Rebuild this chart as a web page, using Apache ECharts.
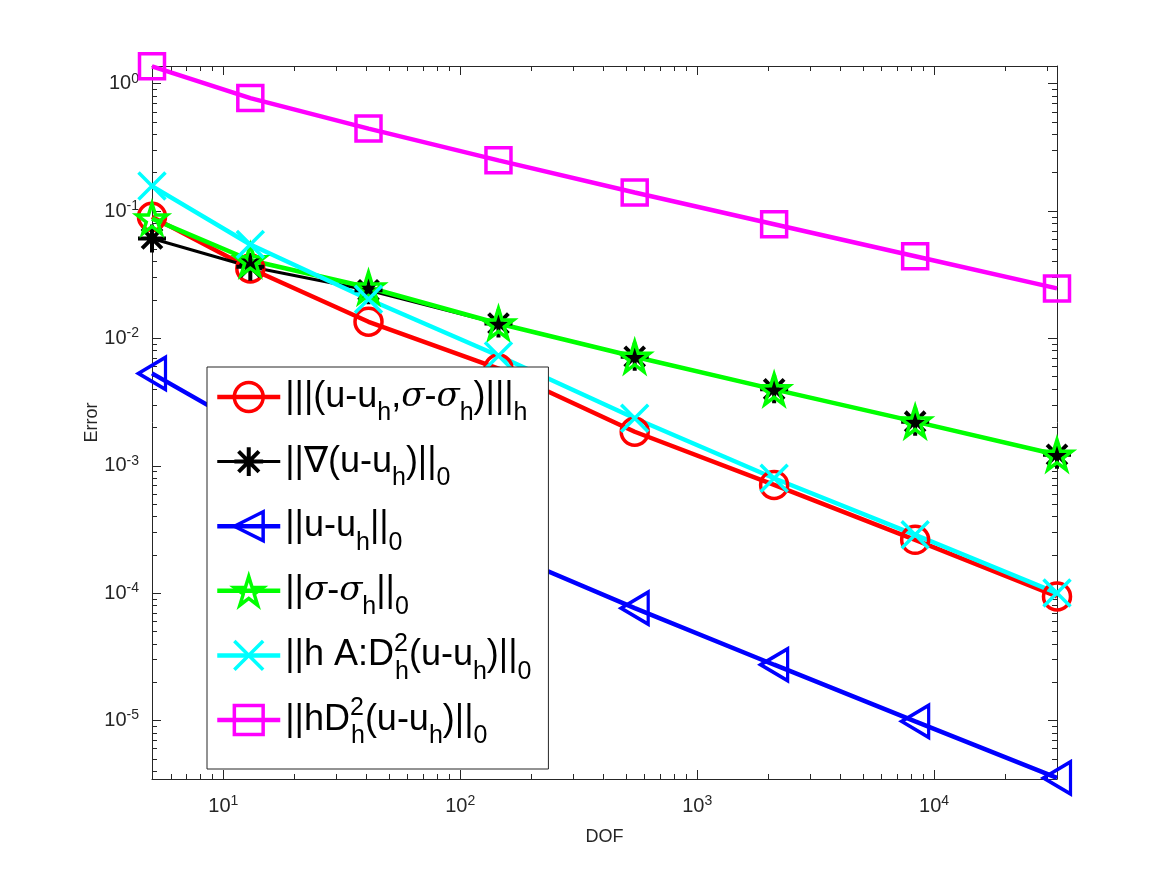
<!DOCTYPE html>
<html>
<head>
<meta charset="utf-8">
<title>Error vs DOF</title>
<script src="https://cdn.jsdelivr.net/npm/echarts@6/dist/echarts.min.js"></script>
<style>
  html, body { margin: 0; padding: 0; background: #fff; }
  #main { width: 1167px; height: 875px; }
</style>
</head>
<body>
<div id="main"></div>
<script>
// degrees of freedom on each refinement level
var dof = [5, 13, 41, 145, 545, 2113, 8321, 33025];

// errors
var energyErr = [0.090, 0.0354, 0.0135, 0.0058, 0.00185, 0.000707, 0.000262, 0.0000940];
var gradErr   = [0.0609, 0.0365, 0.0239, 0.0131, 0.00717, 0.00398, 0.00222, 0.00122];
var l2Err     = [0.00531, 0.00193, 0.00065, 0.000217, 0.0000762, 0.0000274, 0.00000984, 0.00000354];
var sigmaErr  = [0.0873, 0.0411, 0.0251, 0.0131, 0.00717, 0.00398, 0.00222, 0.00122];
var hAErr     = [0.157, 0.0546, 0.0203, 0.00731, 0.00236, 0.000798, 0.000287, 0.0001];
var hD2Err    = [1.37, 0.771, 0.444, 0.250, 0.140, 0.0788, 0.0442, 0.0247];

var names = ['energy', 'grad', 'l2', 'sigma', 'hA', 'hD2'];
// legend labels in rich text (subscripts / superscripts)
var legendText = {
    energy: '|||(u-u{sub|h},{sig|σ}-{sig|σ}{sub|h})|||{sub|h}',
    grad:   '||∇(u-u{sub|h})||{sub|0}',
    l2:     '||u-u{sub|h}||{sub|0}',
    sigma:  '||{sig|σ}-{sig|σ}{sub|h}||{sub|0}',
    hA:     '||h A:D{sup|2}{sub|h}(u-u{sub|h})||{sub|0}',
    hD2:    '||hD{sup|2}{sub|h}(u-u{sub|h})||{sub|0}'
};

var xMin = 5, xMax = 33025;
var yMin = 3.47e-6, yMax = 1.377;

var FONT = 'Liberation Sans';
var AX = '#262626';

function pairs(ys) {
    return dof.map(function (d, i) { return [d, ys[i]]; });
}

function tickLabel(v) {
    var l = Math.log10(v);
    var e = Math.round(l);
    if (Math.abs(l - e) > 1e-6) return '';
    return '10{sup|' + e + '}';
}

var tickRich = {
    sup: { fontSize: 14, fontFamily: FONT, color: AX, verticalAlign: 'top', lineHeight: 14 }
};

function logAxis(extra) {
    var a = {
        type: 'log',
        logBase: 10,
        axisLine: { show: true, lineStyle: { color: AX, width: 1 } },
        axisTick: { show: true, inside: true, length: 9, lineStyle: { color: AX, width: 1 } },
        minorTick: { show: true, splitNumber: 9, length: 5, lineStyle: { color: AX, width: 1 } },
        splitLine: { show: false },
        minorSplitLine: { show: false }
    };
    for (var k in extra) a[k] = extra[k];
    return a;
}

var STAR = 'path://M50,0 L61.23,34.55 L97.55,34.55 L68.17,55.9 L79.39,90.45 L50,69.1 L20.61,90.45 L31.83,55.9 L2.45,34.55 L38.77,34.55 Z';
var ASTER = 'path://M5,0 L5,10 M0,5 L10,5 M1.46,1.46 L8.54,8.54 M1.46,8.54 L8.54,1.46';
var CROSS = 'path://M0,0 L10,10 M0,10 L10,0';
var LTRI = 'path://M0,5 L8.66,0 L8.66,10 Z';

function mkSeries(name, ys, color, symbol, size, lw, bw) {
    return {
        name: name,
        type: 'line',
        data: pairs(ys),
        symbol: symbol,
        symbolSize: size,
        showAllSymbol: true,
        lineStyle: { color: color, width: lw },
        itemStyle: { color: 'rgba(0,0,0,0)', borderColor: color, borderWidth: bw },
        emphasis: { disabled: true },
        z: 2
    };
}

var chart = echarts.init(document.getElementById('main'), null, { renderer: 'canvas' });

var option = {
    animation: false,
    backgroundColor: '#fff',
    grid: { left: 152, right: 110, top: 66, bottom: 96, containLabel: false },
    xAxis: [
        logAxis({
            min: xMin, max: xMax, position: 'bottom',
            name: 'DOF', nameLocation: 'middle', nameGap: 49,
            nameTextStyle: { fontFamily: FONT, fontSize: 18, color: AX },
            axisLabel: {
                fontFamily: FONT, fontSize: 20, color: AX, margin: 15, lineHeight: 24,
                showMinLabel: false, showMaxLabel: false,
                formatter: tickLabel, rich: tickRich
            }
        }),
        logAxis({ min: xMin, max: xMax, position: 'top', axisLabel: { show: false } })
    ],
    yAxis: [
        logAxis({
            min: yMin, max: yMax, position: 'left',
            name: 'Error', nameLocation: 'middle', nameGap: 51, nameMoveOverlap: false,
            nameTextStyle: { fontFamily: FONT, fontSize: 18, color: AX },
            axisLabel: {
                fontFamily: FONT, fontSize: 20, color: AX, margin: 13, lineHeight: 24,
                showMinLabel: false, showMaxLabel: false,
                formatter: tickLabel, rich: tickRich
            }
        }),
        logAxis({ min: yMin, max: yMax, position: 'right', axisLabel: { show: false } })
    ],
    legend: {
        data: names,
        orient: 'vertical',
        left: 207,
        top: 367,
        padding: [6, 17, 20, 8],
        itemGap: 11.6,
        itemWidth: 63,
        itemHeight: 36,
        itemTextGap: 6,
        backgroundColor: '#fff',
        borderColor: AX,
        borderWidth: 1,
        borderRadius: 0,
        selectedMode: false,
        lineStyle: { width: 'inherit' },
        itemStyle: { borderWidth: 'inherit' },
        formatter: function (n) { return legendText[n]; },
        textStyle: {
            fontFamily: FONT, fontSize: 36, color: '#000', lineHeight: 48,
            rich: {
                sub: { fontFamily: FONT, fontSize: 25, color: '#000', lineHeight: 20, verticalAlign: 'top', padding: [28, 0, 0, 0] },
                sup: { fontFamily: FONT, fontSize: 25, color: '#000', lineHeight: 20, verticalAlign: 'top', width: 1, padding: [0, 0, 0, 0] },
                sig: { fontFamily: 'DejaVu Serif', fontStyle: 'italic', fontSize: 34, color: '#000', lineHeight: 48 }
            }
        }
    },
    series: [
        mkSeries('energy', energyErr, '#ff0000', 'circle', 27, 4.5, 3.5),
        mkSeries('grad', gradErr, '#000000', ASTER, 28, 3, 4),
        mkSeries('l2', l2Err, '#0000ff', LTRI, [27, 32], 4.5, 3.5),
        mkSeries('sigma', sigmaErr, '#00ff00', STAR, 30, 4.5, 3.5),
        mkSeries('hA', hAErr, '#00ffff', CROSS, 27, 4.5, 3.5),
        mkSeries('hD2', hD2Err, '#ff00ff', 'rect', 25, 4.5, 3.5)
    ]
};

chart.setOption(option);
</script>
</body>
</html>
